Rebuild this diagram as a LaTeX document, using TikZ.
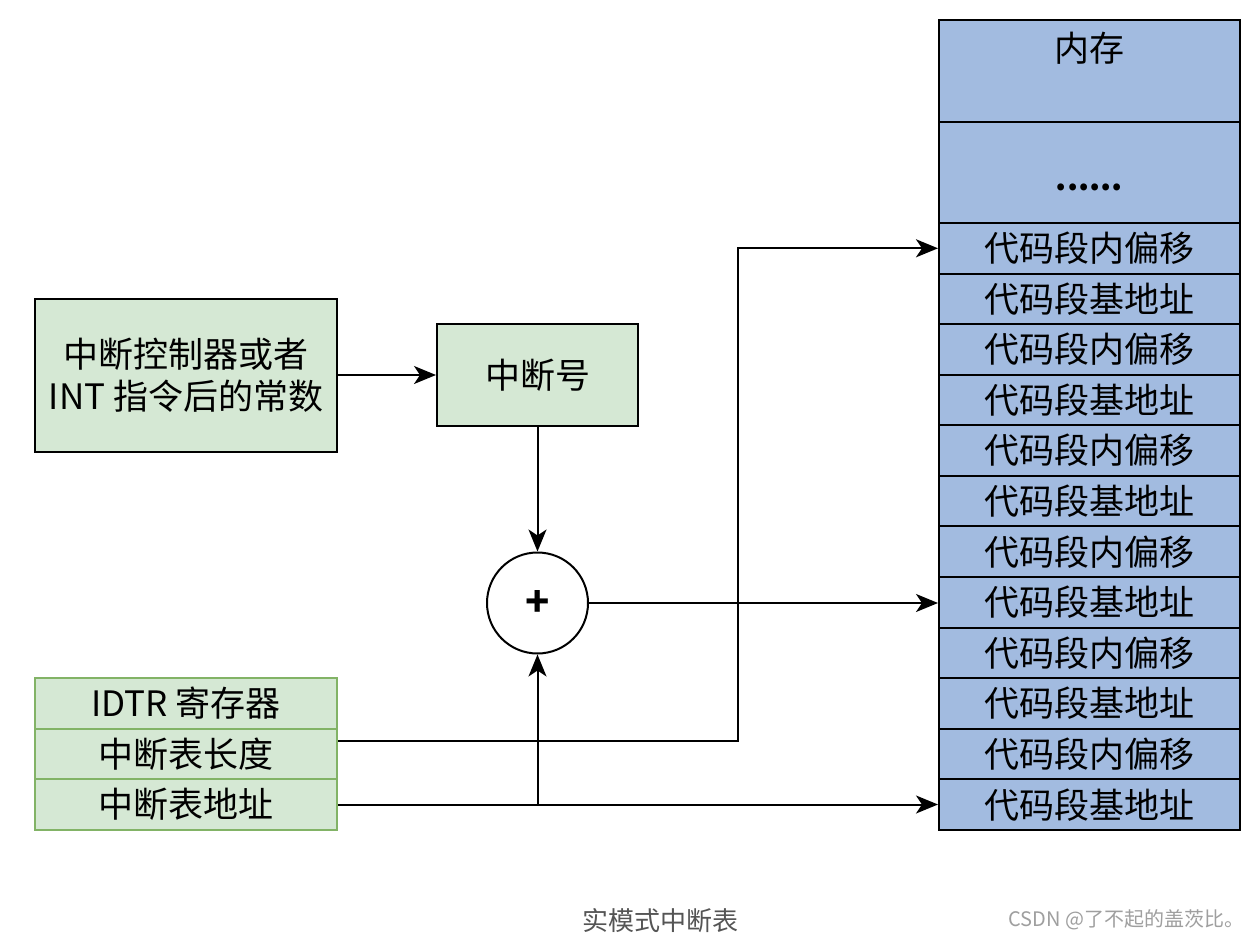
\documentclass[tikz,border=0pt]{standalone}
\usepackage{fontspec}
\newfontfamily\cjk{Noto Sans CJK SC}
\usetikzlibrary{arrows.meta}
\definecolor{memblue}{HTML}{A2BBE0}
\definecolor{boxgreen}{HTML}{D5E8D4}
\definecolor{edgegreen}{HTML}{82B366}
\definecolor{capgray}{HTML}{555555}
\tikzset{
  txt/.style={font=\cjk\fontsize{35}{42}\selectfont, align=center, inner sep=0pt},
  greenbox/.style={txt, draw=black, fill=boxgreen, line width=2pt},
  regbox/.style={txt, draw=edgegreen, fill=boxgreen, line width=2pt, minimum width=302pt, minimum height=50.5pt},
  membox/.style={txt, draw=black, fill=memblue, line width=2pt, minimum width=301pt},
  link/.style={->, line width=2pt},
}

\begin{document}
\begin{tikzpicture}[x=1pt, y=-1pt, >={Stealth[length=22pt, width=18pt, inset=6pt]}]
   \fill[white] (0,0) rectangle (1254,942);
   \useasboundingbox (0,0) rectangle (1254,942);

   \node[greenbox, minimum width=302pt, minimum height=153pt] (src) at (186,375) {中断控制器或者\\INT 指令后的常数};
   \node[greenbox, minimum width=201pt, minimum height=102pt] (num) at (537.5,375) {中断号};
   \node[circle, draw, line width=2pt, fill=white, minimum size=101pt, inner sep=0pt, font=\cjk\bfseries\fontsize{40}{44}\selectfont] (add) at (537.5,603) {+};

   % IDTR
   \node[regbox] (idtr) at (186,703.5) {IDTR 寄存器};
   \node[regbox] (len) at (186,754) {中断表长度};
   \node[regbox] (base) at (186,804.5) {中断表地址};

   % memory
   \node[membox, minimum height=102pt] (memtop) at (1089.5,71) {};
   \node[txt] (memtitle) at (1089.5,48) {内存};
   \node[membox, minimum height=101pt] (memdots) at (1089.5,172.5) {};
   \node[font=\cjk\bfseries\fontsize{32}{40}\selectfont, anchor=base] (dots) at (1089.5,190) {......};
   \foreach \i in {1,...,12} {
      \pgfmathsetmacro\yc{248.3+(\i-1)*50.58}
      \node[membox, minimum height=50.58pt] (row\i) at (1089.5,\yc) {\ifodd\i 代码段内偏移\else 代码段基地址\fi};
   }

   \coordinate (bend) at (738,248);
   \draw[link] (src) -- (num);
   \draw[link] (num) -- (add);
   \draw[link] (add.east) -- (add.east -| row8.west);
   \draw[link] ([yshift=13pt]len.east) -- ([yshift=13pt]len.east -| bend) |- (row1.west);
   \draw[link] (base.east) -- (base.east -| row12.west);
   \draw[link] (base.east -| add) -- (add.south);

   \node[font=\cjk\fontsize{26}{30}\selectfont, text=capgray] (caption) at (660,921) {实模式中断表};
   \node[font=\cjk\fontsize{20}{24}\selectfont, text=gray!75, anchor=east] (mark) at (1248,920) {CSDN @了不起的盖茨比。};
\end{tikzpicture}
\end{document}
